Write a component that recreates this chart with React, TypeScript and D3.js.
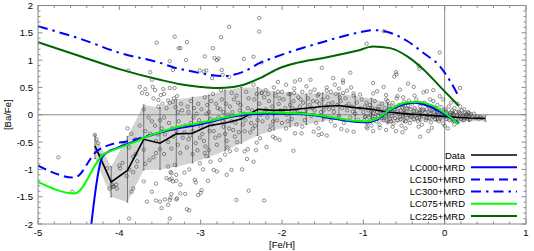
import React, { useEffect, useRef } from "react";
import * as d3 from "d3";

// observed mean [Ba/Fe] in [Fe/H] bins, with the spread (grey band / error bars)
const dataFeH = [-4.3, -4.1, -3.9, -3.7, -3.5, -3.3, -3.1, -2.9, -2.7, -2.5, -2.3, -2.1, -1.9, -1.7, -1.5, -1.3, -1.1, -0.9, -0.7, -0.5, -0.3, -0.1, 0.1, 0.3, 0.5];
const dataBaFe = [-0.57, -1.23, -1.02, -0.45, -0.52, -0.35, -0.34, -0.2, -0.15, -0.08, 0.1, 0.08, 0.09, 0.12, 0.15, 0.17, 0.13, 0.1, 0.05, 0.02, 0.0, -0.02, -0.04, -0.06, -0.07];
const dataLo = [-0.8, -1.5, -1.6, -1.01, -1.0, -0.95, -0.88, -0.78, -0.66, -0.52, -0.38, -0.28, -0.22, -0.18, -0.12, -0.08, -0.08, -0.1, -0.15, -0.14, -0.12, -0.12, -0.12, -0.12, -0.12];
const dataHi = [-0.37, -0.95, -0.4, 0.18, 0.13, 0.28, 0.32, 0.36, 0.45, 0.5, 0.5, 0.42, 0.4, 0.38, 0.4, 0.4, 0.34, 0.3, 0.22, 0.16, 0.12, 0.08, 0.04, 0.0, -0.02];

// model tracks [Fe/H, [Ba/Fe]]
const lc000 = [[-4.36, -2.2], [-4.2, -0.75], [-4.03, -0.61], [-3.87, -0.52], [-3.66, -0.4], [-3.46, -0.31], [-3.25, -0.24], [-3.05, -0.19], [-2.85, -0.12], [-2.64, -0.04], [-2.39, 0.01], [-2.15, 0.02], [-1.9, 0.02], [-1.65, 0.0], [-1.41, -0.06], [-1.16, -0.12], [-0.96, -0.14], [-0.83, -0.09], [-0.71, 0.05], [-0.55, 0.17], [-0.38, 0.22], [-0.22, 0.17], [-0.01, 0.02], [0.17, -0.16]];
const lc150 = [[-5, -0.93], [-4.55, -1.15], [-4.28, -0.67], [-4.07, -0.53], [-3.91, -0.49], [-3.66, -0.39], [-3.46, -0.3], [-3.25, -0.23], [-3.05, -0.18], [-2.85, -0.11], [-2.64, -0.03], [-2.39, 0.02], [-2.15, 0.03], [-1.9, 0.03], [-1.65, 0.01], [-1.41, -0.05], [-1.16, -0.11], [-0.96, -0.13], [-0.83, -0.08], [-0.71, 0.06], [-0.55, 0.18], [-0.38, 0.23], [-0.22, 0.18], [-0.01, 0.03], [0.17, -0.15]];
const lc300 = [[-5, 1.62], [-4.48, 1.39], [-3.99, 1.13], [-3.5, 0.95], [-3.34, 0.87], [-3.13, 0.8], [-2.88, 0.73], [-2.72, 0.71], [-2.47, 0.79], [-2.27, 0.95], [-2.13, 1.03], [-1.82, 1.19], [-1.57, 1.3], [-1.29, 1.42], [-1.04, 1.51], [-0.88, 1.55], [-0.67, 1.5], [-0.46, 1.35], [-0.26, 1.13], [-0.06, 0.89], [0.07, 0.61], [0.17, 0.34]];
const lc075 = [[-5, -1.23], [-4.55, -1.44], [-4.2, -0.73], [-4.03, -0.62], [-3.83, -0.51], [-3.66, -0.4], [-3.46, -0.3], [-3.25, -0.21], [-3.05, -0.16], [-2.88, -0.11], [-2.64, -0.03], [-2.39, 0.03], [-2.15, 0.04], [-1.9, 0.03], [-1.65, 0.01], [-1.41, -0.04], [-1.16, -0.1], [-0.96, -0.12], [-0.83, -0.07], [-0.67, 0.1], [-0.46, 0.23], [-0.34, 0.24], [-0.17, 0.18], [0.03, 0.0], [0.17, -0.17]];
const lc225 = [[-5, 1.33], [-4.48, 1.07], [-3.99, 0.83], [-3.5, 0.64], [-3.25, 0.56], [-3.0, 0.51], [-2.8, 0.49], [-2.6, 0.51], [-2.47, 0.55], [-2.27, 0.67], [-2.02, 0.86], [-1.82, 0.95], [-1.49, 1.04], [-1.2, 1.13], [-1.08, 1.17], [-0.88, 1.25], [-0.67, 1.22], [-0.46, 1.07], [-0.26, 0.83], [-0.06, 0.52], [0.17, 0.17]];

// individual stars, "FeH,BaFe" pairs
const starsUpper = `-3.54,1.32 -3.32,1.43 -3.25,1.22 -3.89,0.81 -3.62,0.78 -3.38,0.98 -3.60,0.64 -3.75,0.51 -3.68,0.47 -3.59,0.51 -3.56,0.45 -3.46,0.47 -3.38,0.49 -3.32,0.49 -3.52,0.27 -3.40,0.26 -3.34,0.24 -3.29,0.34
-2.28,1.77 -2.28,1.52 -2.65,1.61 -3.17,1.33 -2.75,1.42 -3.27,1.22 -2.85,1.22 -3.18,1.00 -2.95,1.07 -2.83,1.04 -2.80,1.00 -2.78,1.03 -2.35,1.06 -2.47,1.02 -2.25,0.96 -3.01,0.81 -2.96,0.79 -2.93,0.81 -2.74,0.82 -2.73,0.73 -2.86,0.67 -2.65,0.69 -1.65,0.64 -1.51,0.86 -1.37,0.67 -1.25,0.63 -1.84,0.61 -1.78,0.64 -3.34,0.82
-0.96,1.30 -0.75,1.53 -0.06,1.14 -0.32,0.90 -0.31,0.84 -1.16,0.77 -0.60,0.78 -0.59,0.74 -0.62,0.70 -1.25,0.59 -0.88,0.58 -0.45,0.57 -0.38,0.51 -0.75,0.51 0.19,0.49 -0.14,0.45 -0.22,0.43 -0.26,0.41 -0.55,0.46 -0.83,0.43 -0.88,0.39 -1.04,0.37 -1.12,0.39 -0.72,0.36 -0.58,0.34 -0.51,0.32 -0.37,0.35 -0.06,0.34 -0.02,0.28 0.19,0.15 0.24,0.10
-2.35,0.55 -2.20,0.45 -2.10,0.50 -2.00,0.42 -1.95,0.55 -1.85,0.48 -1.75,0.42 -1.70,0.52 -1.60,0.46 -1.55,0.38 -1.45,0.50 -1.40,0.42 -1.30,0.48 -1.20,0.44 -1.15,0.50 -2.05,0.60 -1.90,0.38 -2.25,0.40 -1.35,0.55`;

const starsLower = `-4.75,-0.78 -4.58,-1.41 -3.88,-1.90 -3.38,-1.90 -3.48,-1.71 -3.60,-1.41 -3.66,-1.59 -3.55,-1.57 -3.44,-1.55 -3.37,-1.52 -3.40,-1.65 -3.83,-1.35 -3.85,-1.41 -3.70,-1.22 -3.55,-1.26 -4.09,-1.28 -4.12,-1.35 -4.07,-1.31 -3.42,-1.16 -3.36,-1.17 -3.30,-1.21
-3.17,-1.73 -3.14,-1.75 -3.38,-1.56 -3.29,-1.53 -3.19,-1.45 -3.03,-1.47 -2.99,-1.38 -3.00,-1.43 -2.56,-1.56 -2.41,-1.39 -2.22,-1.57 -3.38,-1.19 -3.34,-1.22 -3.07,-1.19 -3.06,-1.24 -2.91,-1.21 -3.36,-1.07 -3.20,-1.06 -2.97,-1.00 -2.84,-1.01 -2.80,-1.04 -2.68,-1.10 -2.62,-1.01 -2.49,-1.00 -3.01,-0.89 -2.88,-0.86 -2.76,-0.83 -2.70,-0.73 -2.56,-0.64 -2.46,-0.67 -2.42,-0.63 -2.35,-0.86 -2.32,-0.65 -2.19,-0.59 -2.11,-0.40 -2.08,-0.43 -2.03,-0.46 -1.86,-0.66 -1.84,-0.34 -1.76,-0.34 -1.61,-0.31 -1.55,-0.37 -1.51,-0.35 -1.45,-0.38 -1.27,-0.26 -2.43,-0.81 -2.27,-0.43 -2.31,-0.51 -2.95,-0.70 -2.93,-0.76 -2.64,-0.67 -3.14,-1.00 -3.25,-1.44 -3.50,-1.59 -3.36,-1.45 -3.30,-1.55
-0.30,-0.40 -1.12,-0.31 -1.20,-0.29 -0.72,-0.28 -0.95,-0.25`;

const starsEarly = `-4.30,-0.37 -4.26,-0.52 -4.28,-0.45 -4.22,-0.75 -4.15,-0.98 -4.03,-1.35 -4.08,-1.32 -4.04,-1.28 -3.99,-0.98 -4.00,-0.93 -3.96,-0.88 -3.91,-1.12 -3.88,-1.00 -3.83,-0.77 -3.80,-0.72 -3.78,-0.85 -3.79,-0.95 -3.83,-1.05 -3.70,-0.64 -3.68,-0.90 -3.63,-0.83 -3.58,-0.78 -3.55,-0.70 -3.50,-0.63 -3.45,-0.72 -3.55,-0.48 -3.53,-0.36 -3.48,-0.25 -3.44,-0.36 -3.40,-0.50 -3.36,-0.62 -3.34,-0.40 -3.30,-0.30 -3.28,-0.55 -3.25,-0.70 -3.22,-0.42 -3.20,-0.32 -3.17,-0.60 -3.15,-0.45 -3.32,-0.92 -3.40,-0.95 -3.37,-1.05 -3.30,-1.10 -3.25,-1.28
-3.72,0.40 -3.66,0.38 -3.58,0.30 -3.49,0.36 -3.45,0.38 -3.52,0.15 -3.47,0.20 -3.42,0.12 -3.38,0.22 -3.33,0.30 -3.31,0.14 -3.28,0.05 -3.24,0.20 -3.70,0.10 -3.64,-0.05 -3.60,-0.12 -3.75,-0.20 -3.68,-0.30 -3.62,-0.35 -3.56,-0.20 -3.50,-0.10 -3.45,-0.05 -3.39,-0.15 -3.35,-0.25 -3.80,-0.45 -3.85,-0.35 -3.90,-0.25 -3.95,-0.55 -3.88,-0.60
-3.12,0.25 -3.08,0.12 -3.05,0.02 -3.02,-0.10 -3.00,-0.22 -2.98,-0.35 -2.96,-0.48 -2.94,-0.58 -3.10,-0.30 -3.06,-0.52 -3.04,-0.65 -3.10,-0.72 -2.92,0.18 -2.90,0.05 -2.88,-0.08 -2.86,-0.18 -2.84,-0.30 -2.82,-0.42 -2.80,-0.55 -2.78,-0.05 -2.76,0.10 -2.74,0.28 -2.72,-0.22 -2.70,-0.35 -2.68,-0.48 -2.66,0.00 -2.64,0.15 -2.62,-0.12 -2.60,-0.28 -2.58,-0.40 -2.56,0.35 -2.54,0.22 -2.52,0.08 -2.50,-0.05 -2.48,-0.18 -2.46,-0.30 -2.44,0.42 -2.42,0.12 -2.40,-0.02 -2.38,-0.15 -2.36,-0.25 -2.34,0.28 -2.32,0.05 -2.30,-0.10 -2.95,0.32 -2.85,0.38 -2.75,0.45 -2.62,0.40 -3.15,0.05 -3.12,-0.15 -2.99,0.10 -2.81,0.20 -2.67,-0.60 -2.55,-0.50 -2.90,-0.65 -2.72,0.05
-3.27,-0.12 -3.23,0.08 -3.19,-0.20 -3.16,0.15 -3.13,-0.38 -3.09,-0.05 -3.03,0.20 -3.01,-0.42 -2.97,-0.15 -2.93,0.02 -2.89,-0.30 -2.87,0.25 -2.83,-0.10 -2.79,0.12 -2.77,-0.38 -2.73,-0.12 -2.69,0.20 -2.65,-0.25 -2.61,0.05 -2.59,0.28 -2.57,-0.15 -2.53,-0.32 -2.51,0.18 -2.47,0.02 -2.45,-0.10 -2.41,0.30 -2.39,-0.32 -2.37,0.08 -2.33,-0.20 -2.31,0.38`;

const starsMid = `-2.28,0.20 -2.26,0.00 -2.24,-0.12 -2.22,0.32 -2.20,0.10 -2.18,-0.05 -2.16,0.25 -2.14,-0.20 -2.12,0.15 -2.10,0.02 -2.08,0.35 -2.06,-0.10 -2.04,0.20 -2.02,0.08 -2.00,-0.15 -1.98,0.28 -1.96,0.12 -1.94,0.00 -1.92,0.38 -1.90,0.18 -1.88,-0.08 -1.86,0.25 -1.84,0.05 -1.82,-0.18 -1.80,0.32 -1.78,0.15 -1.76,0.02 -1.74,0.22 -1.72,-0.10 -1.70,0.10 -1.68,0.30 -1.66,0.18 -1.64,-0.02 -1.62,0.25 -1.60,0.08 -1.58,-0.15 -1.56,0.35 -1.54,0.20 -1.52,0.05 -1.50,0.28 -1.48,-0.05 -1.46,0.15 -1.44,0.32 -1.42,0.10 -1.40,-0.12 -1.38,0.22 -1.36,0.05 -1.34,0.38 -1.32,0.18 -1.30,-0.02 -1.28,0.25 -1.26,0.12 -1.24,-0.15 -1.22,0.30 -1.20,0.08 -1.18,0.20 -1.16,-0.05 -1.14,0.15 -1.12,0.35 -1.10,0.02 -1.08,0.22 -1.06,-0.10 -1.04,0.12 -1.02,0.28 -2.25,0.40 -2.05,0.42 -1.85,0.40 -1.65,0.42 -1.45,0.44 -1.25,0.40 -2.15,-0.28 -1.95,-0.25 -1.75,-0.22 -1.55,-0.25 -1.35,-0.20
-2.21,0.06 -2.17,0.38 -2.11,-0.12 -2.03,0.30 -1.99,0.04 -1.93,-0.12 -1.87,0.12 -1.81,0.05 -1.77,0.28 -1.71,0.02 -1.63,0.12 -1.57,0.24 -1.49,0.08 -1.43,0.20 -1.37,0.12 -1.29,0.32 -1.21,0.16 -1.13,0.06`;

const starsSolar = `-1.00,0.05 -0.99,-0.10 -0.98,0.15 -0.97,-0.02 -0.96,0.22 -0.95,-0.15 -0.94,0.08 -0.93,-0.05 -0.92,0.18 -0.91,0.00 -0.90,-0.20 -0.89,0.12 -0.88,0.03 -0.87,-0.08 -0.86,0.25 -0.85,0.10 -0.84,-0.12 -0.83,0.05 -0.82,-0.02 -0.81,0.15 -0.80,-0.18 -0.79,0.08 -0.78,-0.06 -0.77,0.20 -0.76,0.02 -0.75,-0.10 -0.74,0.12 -0.73,-0.03 -0.72,0.28 -0.71,0.06 -0.70,-0.14 -0.69,0.00 -0.68,0.16 -0.67,-0.08 -0.66,0.10 -0.65,-0.02 -0.64,0.22 -0.63,-0.16 -0.62,0.04 -0.61,-0.06 -0.60,0.14 -0.59,0.30 -0.58,-0.10 -0.57,0.02 -0.56,0.18 -0.55,-0.04 -0.54,0.08 -0.53,-0.20 -0.52,0.12 -0.51,-0.02 -0.50,0.24 -0.49,0.04 -0.48,-0.12 -0.47,0.06 -0.46,-0.06 -0.45,0.16 -0.44,0.00 -0.43,-0.15 -0.42,0.10 -0.41,-0.04 -0.40,0.20 -0.39,0.02 -0.38,-0.08 -0.37,0.12 -0.36,-0.02 -0.35,0.28 -0.34,0.06 -0.33,-0.12 -0.32,0.04 -0.31,-0.05 -0.30,0.15 -0.29,0.00 -0.28,-0.18 -0.27,0.08 -0.26,-0.03 -0.25,0.22 -0.24,0.04 -0.23,-0.10 -0.22,0.10 -0.21,-0.01 -0.20,0.16 -0.19,-0.06 -0.18,0.02 -0.17,-0.14 -0.16,0.08 -0.15,-0.02 -0.14,0.25 -0.13,0.05 -0.12,-0.08 -0.11,0.12 -0.10,-0.03 -0.09,0.18 -0.08,0.00 -0.07,-0.12 -0.06,0.06 -0.05,-0.05 -0.04,0.14 -0.03,0.02 -0.02,-0.16 -0.01,0.08 0.00,-0.04 0.01,0.10 0.02,-0.08 0.03,0.03 0.04,-0.02 0.05,0.15 0.06,-0.10 0.07,0.04 0.08,-0.04 0.09,0.08 0.10,-0.12 0.11,0.00 0.12,0.12 0.13,-0.06 0.14,0.05 0.15,-0.02 0.16,-0.14 0.17,0.06 0.18,-0.05 0.19,0.02 0.20,-0.08 0.21,0.08 0.22,-0.03 0.23,0.00 0.24,-0.10 0.25,0.04 0.26,-0.05 0.27,0.02 0.28,-0.07 0.29,0.05 0.30,-0.02 0.31,-0.09 0.32,0.01 0.34,-0.05 0.36,0.02 0.38,-0.06 0.40,-0.03 0.42,-0.07 0.44,-0.04 0.46,-0.06
-0.98,-0.04 -0.94,0.12 -0.90,0.06 -0.86,-0.04 -0.82,0.10 -0.78,0.02 -0.74,-0.06 -0.70,0.08 -0.66,-0.12 -0.62,0.10 -0.58,0.06 -0.54,-0.08 -0.50,0.02 -0.46,0.12 -0.42,-0.02 -0.38,0.06 -0.34,-0.06 -0.30,0.04 -0.26,0.10 -0.22,-0.06 -0.18,0.08 -0.14,-0.04 -0.10,0.05 -0.06,-0.08 -0.02,0.04 0.02,0.06 0.06,0.00 0.10,0.04 0.14,-0.08 0.18,0.04 0.22,-0.10 0.26,0.00 0.30,0.03 -0.96,-0.22 -0.80,-0.24 -0.64,-0.22 -0.48,-0.25 -0.32,-0.22 -0.16,-0.24 0.00,-0.20 0.12,-0.18 -0.88,-0.30 -0.52,-0.32 -0.20,-0.30 0.04,-0.25 -0.70,0.25 -0.44,0.26 -0.18,0.28 0.08,0.22 0.16,0.20 -0.60,-0.30`;

const xTicks = [-5, -4, -3, -2, -1, 0, 1];
const yTicks = [-2, -1.5, -1, -0.5, 0, 0.5, 1, 1.5, 2];
const legendLabels = ["Data", "LC000+MRD", "LC150+MRD", "LC300+MRD", "LC075+MRD", "LC225+MRD"];

const parseStars = (s: string) =>
  s.trim().split(/\s+/).map((p) => p.split(",").map(Number));

export default function App() {
  const ref = useRef<SVGSVGElement>(null);

  useEffect(() => {
    const svg = d3.select(ref.current as any);
    svg.selectAll("*").remove();

    const left = 38, right = 526, top = 5.5, bottom = 224;
    const x = d3.scaleLinear().domain([-5, 1]).range([left, right]);
    const y = d3.scaleLinear().domain([-2, 2]).range([bottom, top]);
    const font = "'Liberation Sans', Arial, sans-serif";
    const frameColor = "#8a8a8a";

    svg.append("defs").append("clipPath").attr("id", "plotArea")
      .append("rect").attr("x", left).attr("y", top)
      .attr("width", right - left).attr("height", bottom - top);

    const g = svg.append("g").attr("clip-path", "url(#plotArea)");

    // grey spread band
    const idx = d3.range(dataFeH.length);
    g.append("path")
      .datum(idx)
      .attr("d", d3.area<number>()
        .x((i) => x(dataFeH[i]))
        .y0((i) => y(dataLo[i]))
        .y1((i) => y(dataHi[i])) as any)
      .attr("fill", "#d3d3d3");

    // zero lines
    g.append("line").attr("x1", left).attr("x2", right)
      .attr("y1", y(0)).attr("y2", y(0))
      .attr("stroke", frameColor).attr("stroke-width", 1);
    g.append("line").attr("x1", x(0)).attr("x2", x(0))
      .attr("y1", top).attr("y2", bottom)
      .attr("stroke", frameColor).attr("stroke-width", 1);

    // stars
    const stars = [starsUpper, starsLower, starsEarly, starsMid, starsSolar].flatMap(parseStars);
    g.selectAll(".star")
      .data(stars)
      .enter()
      .append("circle")
      .attr("cx", (d) => x(d[0]))
      .attr("cy", (d) => y(d[1]))
      .attr("r", 1.7)
      .attr("fill", "none")
      .attr("stroke", "#3a3a3a")
      .attr("stroke-width", 0.55);

    // error bars
    idx.forEach((i) => {
      const cx = x(dataFeH[i]);
      g.append("line").attr("x1", cx).attr("x2", cx)
        .attr("y1", y(dataLo[i])).attr("y2", y(dataHi[i]))
        .attr("stroke", "#333").attr("stroke-width", 0.6);
      [dataLo[i], dataHi[i]].forEach((v) => {
        g.append("line").attr("x1", cx - 1).attr("x2", cx + 1)
          .attr("y1", y(v)).attr("y2", y(v))
          .attr("stroke", "#333").attr("stroke-width", 0.6);
      });
    });

    // data line
    g.append("path")
      .datum(idx)
      .attr("d", d3.line<number>().x((i) => x(dataFeH[i])).y((i) => y(dataBaFe[i])) as any)
      .attr("fill", "none").attr("stroke", "#000").attr("stroke-width", 1.6);

    const models = [
      { pts: lc225, color: "#006400", dash: null },
      { pts: lc300, color: "#0000ff", dash: "10,5,2.5,5" },
      { pts: lc150, color: "#0000ff", dash: "9,5" },
      { pts: lc000, color: "#0000ff", dash: null },
      { pts: lc075, color: "#00ff00", dash: null },
    ];
    const modelLine = d3.line<number[]>()
      .x((d) => x(d[0])).y((d) => y(d[1]))
      .curve(d3.curveMonotoneX);
    models.forEach((m) => {
      g.append("path")
        .datum(m.pts)
        .attr("d", modelLine as any)
        .attr("fill", "none")
        .attr("stroke", m.color)
        .attr("stroke-width", 2)
        .attr("stroke-dasharray", m.dash);
    });

    // frame
    svg.append("rect").attr("x", left).attr("y", top)
      .attr("width", right - left).attr("height", bottom - top)
      .attr("fill", "none").attr("stroke", frameColor).attr("stroke-width", 1);

    // ticks (inward, all four sides)
    const ticks = svg.append("g").attr("stroke", frameColor).attr("stroke-width", 1);
    d3.range(-5, 1.001, 0.2).forEach((v) => {
      const major = Math.abs(v - Math.round(v)) < 1e-6;
      const len = major ? 4.5 : 2.5;
      ticks.append("line").attr("x1", x(v)).attr("x2", x(v)).attr("y1", bottom).attr("y2", bottom - len);
      ticks.append("line").attr("x1", x(v)).attr("x2", x(v)).attr("y1", top).attr("y2", top + len);
    });
    d3.range(-2, 2.001, 0.1).forEach((v) => {
      const major = Math.abs(v * 2 - Math.round(v * 2)) < 1e-6;
      const len = major ? 4.5 : 2.5;
      ticks.append("line").attr("y1", y(v)).attr("y2", y(v)).attr("x1", left).attr("x2", left + len);
      ticks.append("line").attr("y1", y(v)).attr("y2", y(v)).attr("x1", right).attr("x2", right - len);
    });

    // tick labels
    const labels = svg.append("g").attr("font-family", font).attr("font-size", 9.5).attr("fill", "#000");
    xTicks.forEach((v) => {
      labels.append("text").attr("x", x(v)).attr("y", bottom + 12)
        .attr("text-anchor", "middle").text(String(v));
    });
    yTicks.forEach((v) => {
      labels.append("text").attr("x", left - 5).attr("y", y(v) + 3.5)
        .attr("text-anchor", "end").text(String(v));
    });

    labels.append("text").attr("x", x(-2)).attr("y", 248)
      .attr("text-anchor", "middle").text("[Fe/H]");
    labels.append("text")
      .attr("transform", `translate(11, ${y(0)}) rotate(-90)`)
      .attr("text-anchor", "middle").text("[Ba/Fe]");

    // legend
    const legendStyles = [
      { color: "#000", dash: null, w: 1.6 },
      { color: "#0000ff", dash: null, w: 2 },
      { color: "#0000ff", dash: "9,5", w: 2 },
      { color: "#0000ff", dash: "10,5,2.5,5", w: 2 },
      { color: "#00ff00", dash: null, w: 2 },
      { color: "#006400", dash: null, w: 2 },
    ];
    const legend = svg.append("g").attr("font-family", font).attr("font-size", 9.5);
    legendLabels.forEach((lab, i) => {
      const ly = 155 + i * 12.2;
      legend.append("text").attr("x", 465).attr("y", ly + 3.5)
        .attr("text-anchor", "end").text(lab);
      legend.append("line").attr("x1", 471).attr("x2", 517)
        .attr("y1", ly).attr("y2", ly)
        .attr("stroke", legendStyles[i].color)
        .attr("stroke-width", legendStyles[i].w)
        .attr("stroke-dasharray", legendStyles[i].dash);
    });
  }, []);

  return (
    <div style={{ position: "absolute", left: 0, top: 0 }}>
      <svg ref={ref} width={534} height={251} style={{ display: "block", background: "#fff" }} />
    </div>
  );
}
